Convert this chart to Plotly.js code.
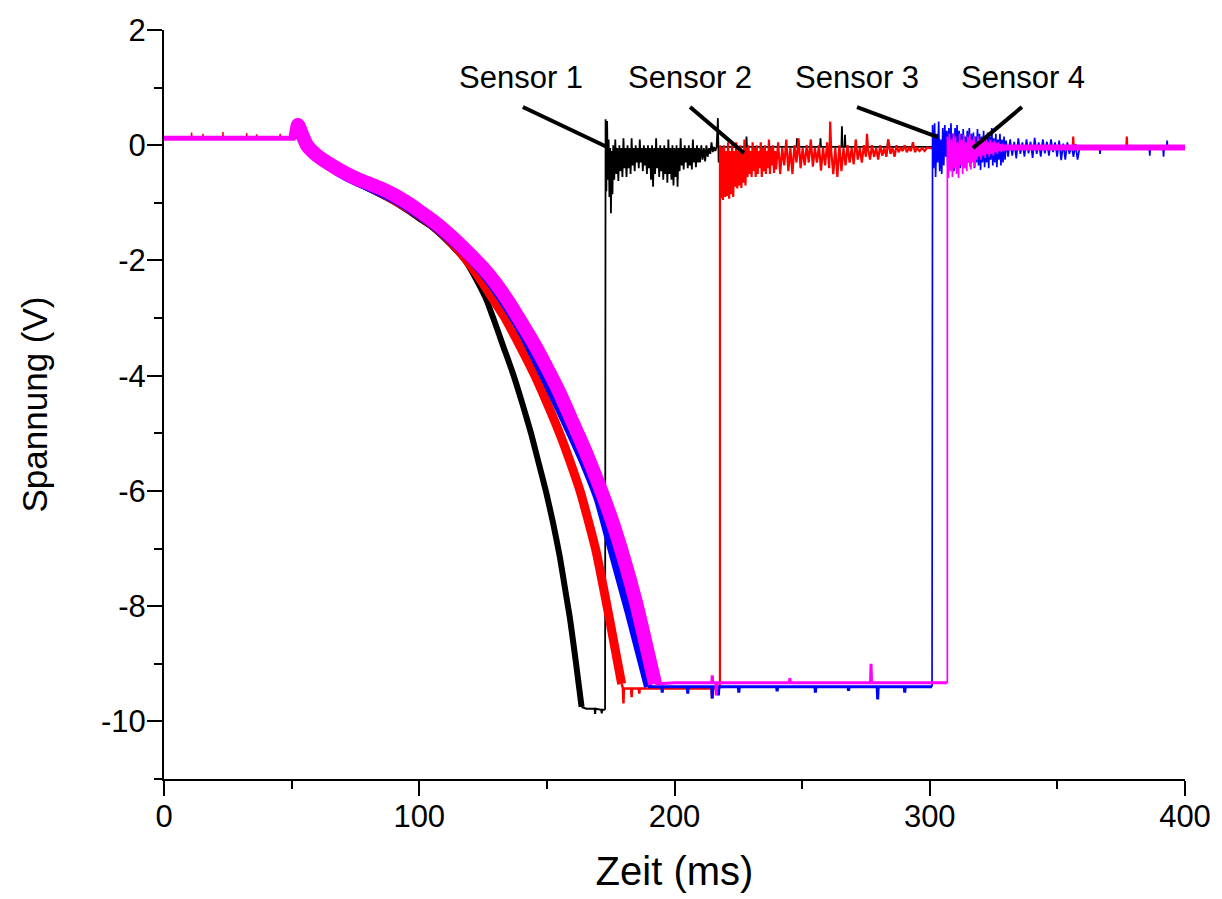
<!DOCTYPE html>
<html>
<head>
<meta charset="utf-8">
<script src="https://cdn.plot.ly/plotly-3.0.1.min.js"></script>
<style>html,body{margin:0;padding:0;background:#fff;}#chart{width:1222px;height:899px;}</style>
</head>
<body>
<div id="chart"></div>
<script>
// ---------- axis ticks ----------
const xTickVals = [0, 100, 200, 300, 400];
const xTickText = ['0', '100', '200', '300', '400'];
const xMinorVals = [50, 150, 250, 350];
const yTickVals = [2, 0, -2, -4, -6, -8, -10];
const yTickText = ['2', '0', '-2', '-4', '-6', '-8', '-10'];
const yMinorVals = [1, -1, -3, -5, -7, -9, -11];

// ---------- Sensor 1 (black) ----------
const s1PreX = [0, 51.5];
const s1PreY = [0.12, 0.12];
const s1CurveX = [51.5,53,54.5,56,60,65,70,75,80,85,90,95,100,105,110,114,118,122,126,129,133,137,140.5,143.8,146.7,149.6,152.4,155.1,157.5,159,161.3,163.6];
const s1CurveY = [0.12,0.32,0.15,-0.02,-0.24,-0.4,-0.53,-0.64,-0.75,-0.86,-0.98,-1.12,-1.27,-1.42,-1.62,-1.8,-2.0,-2.3,-2.65,-3.0,-3.5,-4.0,-4.5,-5.0,-5.5,-6.0,-6.55,-7.15,-7.8,-8.2,-8.95,-9.75];
const s1FlatX = [163.6,165.5,168.7,168.9,169.1,171.3,171.5,171.7,172.8];
const s1FlatY = [-9.75,-9.78,-9.78,-9.87,-9.78,-9.8,-9.86,-9.8,-9.8];
const s1NoiseX = [
 173.0,173.3,173.6,173.9,174.2,174.5,174.8,175.1,175.4,175.7,
 176.0,176.4,176.8,177.2,177.6,178.0,178.4,178.8,179.2,179.6,
 180.0,180.4,180.8,181.2,181.6,182.0,182.4,182.8,183.2,183.6,
 184.0,184.4,184.8,185.2,185.6,186.0,186.4,186.8,187.2,187.6,
 188.0,188.4,188.8,189.2,189.6,190.0,190.4,190.8,191.2,191.6,
 192.0,192.4,192.8,193.2,193.6,194.0,194.4,194.8,195.2,195.6,
 196.0,196.4,196.8,197.2,197.6,198.0,198.4,198.8,199.2,199.6,
 200.0,200.4,200.8,201.2,201.6,202.0,202.4,202.8,203.2,203.6,
 204.0,204.4,204.8,205.2,205.6,206.0,206.4,206.8,207.2,207.6,
 208.0,208.4,208.8,209.2,209.6,210.0,210.5,211.0,211.5,212.0,
 212.5,213.0,213.5,214.0,214.5,215.0,215.5,216.0,216.5,217.0,217.3,217.6];
const s1NoiseY = [
 0.45,-0.8,0.42,-0.6,0.1,-0.9,-0.05,-1.18,-0.1,-0.85,
 0.0,-0.6,0.1,-0.5,-0.05,-0.62,0.0,-0.45,-0.05,-0.55,
 0.12,-0.4,-0.05,-0.55,0.0,-0.4,-0.05,-0.5,0.12,-0.35,
 -0.05,-0.45,0.0,-0.3,-0.05,-0.4,0.1,-0.3,-0.05,-0.45,
 0.0,-0.35,-0.05,-0.5,0.0,-0.4,-0.05,-0.6,0.0,-0.72,
 -0.05,-0.5,0.12,-0.4,-0.05,-0.55,0.0,-0.45,-0.05,-0.6,
 0.0,-0.5,-0.05,-0.65,0.1,-0.5,-0.05,-0.6,0.0,-0.7,
 -0.05,-0.55,0.0,-0.72,-0.05,-0.45,0.12,-0.35,-0.05,-0.42,
 0.0,-0.3,-0.05,-0.4,0.0,-0.35,-0.05,-0.42,0.1,-0.3,
 -0.05,-0.38,0.0,-0.3,-0.05,-0.3,0.0,-0.25,-0.05,-0.28,
 0.0,-0.2,-0.05,-0.15,0.05,-0.12,-0.03,-0.1,-0.03,0.47,-0.3,-0.03];
const s1TailX = [219,228,228.2,228.4,247.8,248,248.2,257,257.2,257.4,265.4,265.6,265.8,266.6,266.8,267,283.4,283.6,283.8,300,350,400];
const s1TailY = [-0.03,-0.03,0.15,-0.03,-0.03,0.12,-0.03,-0.03,0.12,-0.03,-0.03,0.33,-0.03,-0.03,0.18,-0.03,-0.03,0.1,-0.03,-0.03,-0.03,-0.03];

// ---------- Sensor 2 (red) ----------
const s2PreX = [0,10.7,10.8,10.9,15.2,15.3,15.4,23.0,23.1,23.2,32.3,32.4,32.5,36.2,36.3,36.4,45.4,45.5,45.6,50.4,50.5,50.6,51.5];
const s2PreY = [0.12,0.12,0.22,0.12,0.12,0.2,0.12,0.12,0.23,0.12,0.12,0.21,0.12,0.12,0.19,0.12,0.12,0.2,0.12,0.12,0.22,0.12,0.12];
const s2CurveX = [51.5,53,54.5,56,60,65,70,75,80,85,90,95,100,105,110,115,120,125,130,133.6,137.5,141.5,145.3,150,155,159,163,166,169.2,174,179.3];
const s2CurveY = [0.12,0.38,0.2,0.05,-0.2,-0.37,-0.5,-0.62,-0.72,-0.83,-0.95,-1.08,-1.22,-1.38,-1.57,-1.8,-2.08,-2.4,-2.75,-3.0,-3.32,-3.66,-4.0,-4.47,-5.0,-5.48,-6.0,-6.48,-7.03,-8.1,-9.35];
const s2FlatX = [179.3,179.8,180.0,180.2,183.0,183.2,183.4,186.0,186.2,186.4,200,214.5,214.7,214.9,217.8];
const s2FlatY = [-9.35,-9.43,-9.69,-9.43,-9.43,-9.58,-9.43,-9.43,-9.52,-9.43,-9.43,-9.43,-9.6,-9.43,-9.43];
const s2NoiseX = [
 217.8,218.2,218.6,219.0,219.4,219.8,220.2,220.6,221.0,221.4,
 221.8,222.2,222.6,223.0,223.4,223.8,224.2,224.6,225.0,225.4,
 225.8,226.2,226.6,227.0,227.4,227.8,228.2,228.6,229.0,229.4,
 229.8,230.2,230.6,231.0,231.4,231.8,232.2,232.6,233.0,233.4,
 233.8,234.2,234.6,235.0,235.4,235.8,236.2,236.6,237.0,237.4,
 237.8,238.2,238.6,239.0,239.4,239.8,240.6,241.4,242.2,243.0,
 243.8,244.6,245.4,246.2,247.0,247.8,248.6,249.4,250.2,251.0,
 251.8,252.6,253.4,254.2,255.0,255.8,256.6,257.4,258.2,259.0,
 259.8,260.6,261.0,261.4,262.2,263.0,263.8,264.6,265.4,266.2,
 267.0,267.8,268.6,269.4,270.2,271.0,271.8,272.6,273.4,274.2,
 275.0,275.4,275.8,276.6,277.4,278.2,279.0,279.8,280.6,281.4,
 282.2,283.0,283.8,284.6,285.4,286.2,287.0,287.8,288.6,289.4,
 290.2,291.0,291.8,292.6,293.4,294.2,295.0,296.0,297.0,298.0,299.0,300.0];
const s2NoiseY = [
 0.0,-0.92,-0.05,-0.95,0.0,-0.9,-0.1,-0.88,0.05,-0.93,
 -0.1,-0.85,0.0,-0.9,-0.1,-0.72,0.05,-0.75,-0.1,-0.7,
 0.0,-0.74,-0.1,-0.65,0.1,-0.7,-0.05,-0.55,0.0,-0.5,
 -0.1,-0.55,0.05,-0.45,-0.05,-0.55,0.0,-0.5,-0.1,-0.4,
 0.05,-0.55,-0.05,-0.45,0.0,-0.5,-0.1,-0.4,0.1,-0.5,
 -0.05,-0.35,0.0,-0.48,-0.1,-0.42,0.05,-0.5,-0.05,-0.35,
 0.1,-0.45,-0.05,-0.5,0.0,-0.3,0.12,-0.4,-0.05,-0.35,
 0.0,-0.3,0.1,-0.37,-0.05,-0.3,0.0,-0.44,-0.05,-0.35,
 0.05,-0.4,0.41,-0.1,-0.5,-0.05,-0.55,0.0,-0.45,-0.05,
 -0.35,0.0,-0.3,-0.05,-0.33,0.1,-0.25,-0.05,-0.3,0.0,
 -0.2,0.2,-0.05,-0.25,0.0,-0.2,-0.05,-0.25,0.0,-0.18,
 -0.05,-0.2,0.1,-0.15,-0.05,-0.2,0.0,-0.12,-0.05,-0.1,
 0.0,-0.12,-0.05,-0.1,0.05,-0.12,-0.05,-0.1,-0.05,-0.1,-0.04,-0.05];
const s2TailX = [310,340,356,356.2,356.4,377,377.2,377.4,400];
const s2TailY = [-0.05,-0.05,-0.05,0.15,-0.05,-0.05,0.15,-0.05,-0.05];

// ---------- Sensor 3 (blue) ----------
const s3PreX = [0, 51.5];
const s3PreY = [0.12, 0.12];
const s3CurveX = [51.5,53,54.5,56,60,65,70,75,80,85,90,95,100,105,110,115,120,125,130,135,140,145,150,155,160,165,170,175.4,182,189.6];
const s3CurveY = [0.12,0.3,0.17,-0.02,-0.22,-0.38,-0.52,-0.63,-0.73,-0.83,-0.94,-1.07,-1.22,-1.38,-1.56,-1.76,-1.98,-2.23,-2.53,-2.87,-3.24,-3.68,-4.13,-4.6,-5.08,-5.58,-6.15,-7.03,-8.1,-9.4];
const s3FlatX = [189.6,195,195.2,195.4,205,205.2,205.4,214.6,214.8,215,217,217.2,217.4,225,225.2,225.4,240,240.2,240.4,255,255.2,255.4,268,268.2,268.4,279.4,279.6,279.8,290,290.2,290.4,300.9];
const s3FlatY = [-9.4,-9.4,-9.5,-9.4,-9.4,-9.52,-9.4,-9.4,-9.6,-9.4,-9.4,-9.55,-9.4,-9.4,-9.5,-9.4,-9.4,-9.48,-9.4,-9.4,-9.5,-9.4,-9.4,-9.47,-9.4,-9.4,-9.62,-9.4,-9.4,-9.5,-9.4,-9.4];
const s3NoiseX = [
 301.1,301.5,301.9,302.3,302.7,303.1,303.5,303.9,304.3,304.7,
 305.1,305.5,305.9,306.3,306.7,307.1,307.5,307.9,308.3,308.7,
 309.1,309.5,309.9,310.3,310.7,311.1,311.5,311.9,312.3,312.7,
 313.1,313.5,313.9,314.3,314.7,315.1,315.5,315.9,316.3,316.7,
 317.1,317.5,317.9,318.3,318.7,319.1,319.5,319.9,320.3,320.7,
 321.1,321.5,321.9,322.3,322.7,323.1,323.5,323.9,324.3,324.7,
 325.1,325.5,325.9,326.3,326.7,327.1,327.5,327.9,328.3,328.7,
 329.1,329.5,329.9,330.7,331.5,332.3,333.1,333.9,334.7,335.5,
 336.3,337.1,337.9,338.7,339.5,340.3,341.1,341.9,342.7,343.5,
 344.3,345.1,345.9,346.7,347.5,348.3,349.1,349.9,350.7,351.5,
 352.3,353.1,353.9,354.7,355.5,356.3,357.1,357.9,358.7];
const s3NoiseY = [
 0.35,-0.4,0.38,-0.55,0.2,-0.3,0.41,-0.45,0.1,-0.5,
 0.3,-0.35,0.35,-0.2,0.25,-0.4,0.3,-0.3,0.38,-0.25,
 0.2,-0.45,0.3,-0.2,0.35,-0.3,0.25,-0.4,0.2,-0.35,
 0.28,-0.3,0.15,-0.4,0.25,-0.3,0.3,-0.38,0.2,-0.25,
 0.22,-0.4,0.15,-0.3,0.28,-0.35,0.2,-0.43,0.15,-0.3,
 0.25,-0.38,0.1,-0.3,0.22,-0.4,0.15,-0.25,0.3,-0.35,
 0.12,-0.3,0.2,-0.38,0.1,-0.25,0.2,-0.35,0.1,-0.3,
 0.15,-0.25,0.08,-0.2,0.1,-0.18,0.06,-0.23,0.12,-0.15,
 0.05,-0.2,0.1,-0.14,0.06,-0.22,0.13,-0.15,0.05,-0.2,
 0.1,-0.14,0.06,-0.18,0.1,-0.12,0.05,-0.2,0.08,-0.26,
 0.03,-0.25,0.05,-0.15,0.0,-0.2,0.02,-0.25,-0.05];
const s3TailX = [360,366.5,366.7,366.9,386,386.2,386.4,391.4,391.6,391.8,392.8,393,393.2,400];
const s3TailY = [-0.05,-0.05,-0.15,-0.05,-0.05,-0.18,-0.05,-0.05,-0.2,-0.05,-0.05,0.08,-0.05,-0.05];

// ---------- Sensor 4 (magenta) ----------
const s4PreX = [0, 51.5];
const s4PreY = [0.12, 0.12];
const s4CurveX = [51.5,52.5,54,56,60,65,70,75,80,85,90,95,100,105,110,115,120,125,130,135,140,145,150,155,160,165,170,175,180,185,189,192.4];
const s4CurveY = [0.12,0.35,0.2,0.0,-0.18,-0.33,-0.46,-0.57,-0.66,-0.75,-0.86,-0.99,-1.14,-1.3,-1.48,-1.68,-1.9,-2.13,-2.4,-2.72,-3.08,-3.45,-3.86,-4.3,-4.8,-5.3,-5.85,-6.45,-7.15,-7.95,-8.7,-9.35];
const s4FlatX = [192.4,200,214.6,214.8,215,216.2,216.4,216.6,230,245,245.2,245.4,260,276.8,277,277.2,295,306.9];
const s4FlatY = [-9.35,-9.33,-9.33,-9.2,-9.33,-9.33,-9.55,-9.33,-9.33,-9.33,-9.25,-9.33,-9.33,-9.33,-9.0,-9.33,-9.33,-9.33];
const s4NoiseX = [
 306.9,307.3,307.7,308.1,308.5,308.9,309.3,309.7,310.1,
 310.5,310.9,311.3,311.7,312.1,312.5,312.9,313.3,313.7,314.1,
 314.5,314.9,315.3,315.7,316.1,316.5,316.9,317.3,317.7,318.1,
 318.5,318.9,319.3,319.7,320.1,320.5,320.9,321.3,321.7,322.1,
 322.5,322.9,323.3,323.7,324.1,324.5,324.9,325.3,325.7,326.1,
 326.5,326.9,327.3,327.7,328.1,328.5,329.0,330.0];
const s4NoiseY = [
 0.15,-0.57,0.2,-0.45,0.1,-0.55,0.21,-0.4,0.15,
 -0.5,0.05,-0.57,0.2,-0.35,0.1,-0.5,0.18,-0.4,0.05,
 -0.45,0.15,-0.3,0.2,-0.42,0.1,-0.3,0.15,-0.38,0.05,
 -0.25,0.15,-0.2,0.1,-0.25,0.12,-0.18,0.08,-0.22,0.1,
 -0.15,0.05,-0.2,0.1,-0.15,0.05,-0.18,0.08,-0.12,0.04,
 -0.15,0.05,-0.1,0.02,-0.12,0.03,-0.1,-0.04];
const s4TailX = [316, 400];
const s4TailY = [-0.04, -0.04];

// ---------- annotations ----------
const labelText = ['Sensor 1', 'Sensor 2', 'Sensor 3', 'Sensor 4'];
const labelX = [139.9, 206.1, 271.5, 336.5];
const labelY = [1.18, 1.18, 1.18, 1.18];
const ptrX0 = [140.6, 206.1, 271.5, 336.1];
const ptrY0 = [0.663, 0.663, 0.663, 0.663];
const ptrX1 = [173.6, 227.2, 303.2, 316.9];
const ptrY1 = [-0.03, -0.135, 0.14, -0.05];

const BLACK = '#000000', RED = '#ff0000', BLUE = '#0000ff', PINK = '#ff00ff';

function tr(x, y, color, width, spline) {
  return {x: x, y: y, type: 'scatter', mode: 'lines', hoverinfo: 'skip',
          line: {color: color, width: width, shape: spline ? 'spline' : 'linear', smoothing: 0.5, simplify: false}};
}
function last(a) { return [a[a.length - 1]]; }

const traces = [
  tr(s1PreX, s1PreY, BLACK, 2),
  tr(s2PreX, s2PreY, RED, 1.5),
  tr(s3PreX, s3PreY, BLUE, 2),
  tr(s4PreX, s4PreY, PINK, 5),
  tr(s1FlatX, s1FlatY, BLACK, 2),
  tr(last(s1FlatX).concat(s1NoiseX, s1TailX), last(s1FlatY).concat(s1NoiseY, s1TailY), BLACK, 1.8),
  tr(s2FlatX, s2FlatY, RED, 2.5),
  tr(last(s2FlatX).concat(s2NoiseX, s2TailX), last(s2FlatY).concat(s2NoiseY, s2TailY), RED, 2.2),
  tr(s3FlatX, s3FlatY, BLUE, 3),
  tr(last(s3FlatX).concat(s3NoiseX, s3TailX), last(s3FlatY).concat(s3NoiseY, s3TailY), BLUE, 1.7),
  tr(s1CurveX, s1CurveY, BLACK, 6, true),
  tr(s2CurveX, s2CurveY, RED, 9, true),
  tr(s3CurveX, s3CurveY, BLUE, 8, true),
  tr(s4CurveX, s4CurveY, PINK, 14, true),
  tr(s4FlatX, s4FlatY, PINK, 3),
  tr(s4TailX, s4TailY, PINK, 6),
  tr(last(s4FlatX).concat(s4NoiseX), last(s4FlatY).concat(s4NoiseY), PINK, 1.7)
];

const annotations = labelText.map((t, i) => ({
  x: labelX[i], y: labelY[i], xref: 'x', yref: 'y', text: t, showarrow: false,
  xanchor: 'center', yanchor: 'middle', font: {size: 31, color: '#000'}
}));
const shapes = labelText.map((t, i) => ({
  type: 'line', xref: 'x', yref: 'y', x0: ptrX0[i], y0: ptrY0[i], x1: ptrX1[i], y1: ptrY1[i],
  line: {color: '#000', width: 4}
}));

const axisCommon = {
  ticks: 'outside', ticklen: 15, tickwidth: 2, tickcolor: '#000',
  showline: true, linewidth: 2, linecolor: '#000', mirror: false,
  showgrid: false, zeroline: false, tickfont: {size: 31, color: '#000'}
};

const layout = {
  width: 1222, height: 899,
  margin: {l: 164, r: 37, t: 30, b: 120},
  paper_bgcolor: '#fff', plot_bgcolor: '#fff',
  showlegend: false,
  font: {family: 'Arial, "Liberation Sans", sans-serif', color: '#000'},
  xaxis: Object.assign({}, axisCommon, {
    range: [0, 400], tickmode: 'array', tickvals: xTickVals, ticktext: xTickText,
    ticklabelstandoff: -6,
    minor: {tickmode: 'array', tickvals: xMinorVals, ticks: 'outside', ticklen: 8, tickwidth: 2, tickcolor: '#000', showgrid: false},
    title: {text: 'Zeit (ms)', font: {size: 40, color: '#000'}, standoff: 24}
  }),
  yaxis: Object.assign({}, axisCommon, {
    range: [-11, 2], tickmode: 'array', tickvals: yTickVals, ticktext: yTickText,
    ticklabelstandoff: -5,
    minor: {tickmode: 'array', tickvals: yMinorVals, ticks: 'outside', ticklen: 8, tickwidth: 2, tickcolor: '#000', showgrid: false},
    title: {text: 'Spannung (V)', font: {size: 35, color: '#000'}, standoff: 43}
  }),
  annotations: annotations,
  shapes: shapes
};

Plotly.newPlot('chart', traces, layout, {displayModeBar: false, staticPlot: true});
</script>
</body>
</html>
